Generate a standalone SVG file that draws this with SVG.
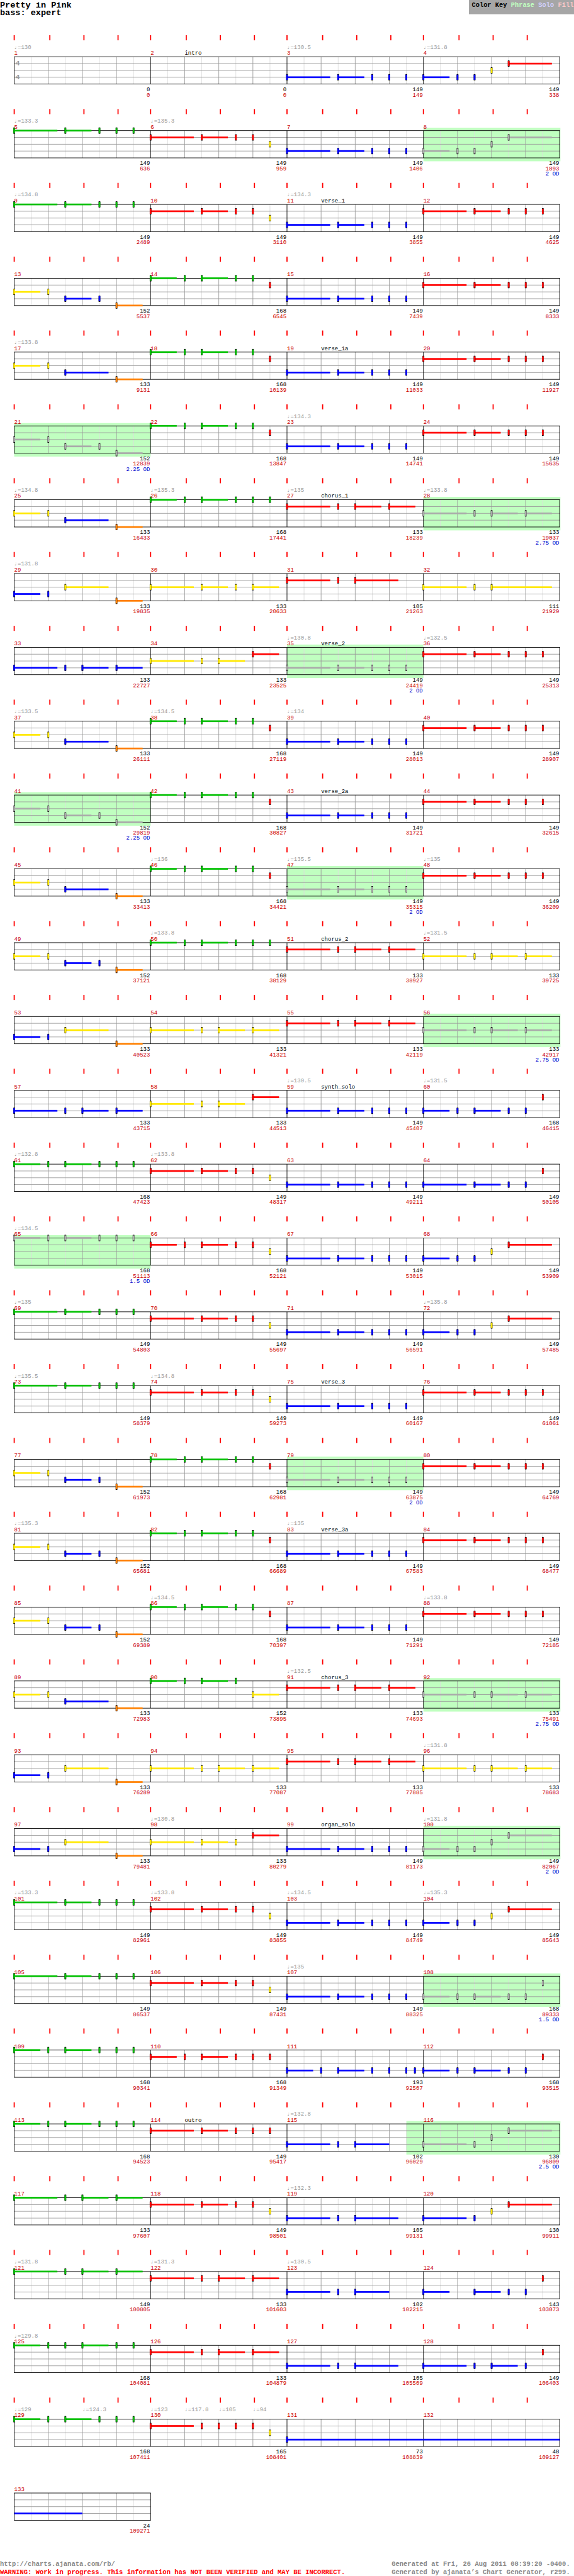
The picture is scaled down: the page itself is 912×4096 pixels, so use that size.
<svg xmlns="http://www.w3.org/2000/svg" width="912" height="4096" viewBox="0 0 912 4096">
<style>
text{font-family:"Liberation Mono","DejaVu Sans Mono",monospace;font-size:10px}
.G{fill:#00c000}.R{fill:#ff0000}.Y{fill:#ffe800}.B{fill:#0000ff}.O{fill:#ff8000}.X{fill:#aaaaaa}
.t{fill:#999}.m{fill:#c00}.s{fill:#000}
.n{fill:#000;text-anchor:end}.c{fill:#c00;text-anchor:end}.o{fill:#00c;text-anchor:end}
.ph{fill:#c0ffc0}.tk{fill:#f00}
.ft{font-size:11.65px;font-weight:bold}
</style>
<defs>
<g id="kG"><rect x="-1.5" y="-5.5" width="3" height="11"/><rect class="G" x="-1.5" y="-4.5" width="3" height="9"/></g>
<g id="kR"><rect x="-1.5" y="-5.5" width="3" height="11"/><rect class="R" x="-1.5" y="-4.5" width="3" height="9"/></g>
<g id="kY"><rect x="-1.5" y="-5.5" width="3" height="11"/><rect class="Y" x="-1.5" y="-4.5" width="3" height="9"/></g>
<g id="kB"><rect x="-1.5" y="-5.5" width="3" height="11"/><rect class="B" x="-1.5" y="-4.5" width="3" height="9"/></g>
<g id="kO"><rect x="-1.5" y="-5.5" width="3" height="11"/><rect class="O" x="-1.5" y="-4.5" width="3" height="9"/></g>
<g id="kX"><rect x="-1.5" y="-5.5" width="3" height="11"/><rect class="X" x="-1.5" y="-4.5" width="3" height="9"/></g>
<g id="tk" class="tk">
<rect x="24" y="62" width="2" height="9"/><rect x="86.7" y="62" width="2" height="9"/><rect x="146.7" y="62" width="2" height="9"/><rect x="206.7" y="62" width="2" height="9"/>
<rect x="264" y="62" width="2" height="9"/><rect x="326.7" y="62" width="2" height="9"/><rect x="386.7" y="62" width="2" height="9"/><rect x="446.7" y="62" width="2" height="9"/>
<rect x="504" y="62" width="2" height="9"/><rect x="566.7" y="62" width="2" height="9"/><rect x="626.7" y="62" width="2" height="9"/><rect x="686.7" y="62" width="2" height="9"/>
<rect x="744" y="62" width="2" height="9"/><rect x="806.7" y="62" width="2" height="9"/><rect x="866.7" y="62" width="2" height="9"/><rect x="926.7" y="62" width="2" height="9"/>
</g>
<g id="grid" fill="none">
<path stroke="#ddd" d="M55 100v48M115 100v48M175 100v48M235 100v48M295 100v48M355 100v48M415 100v48M475 100v48M535 100v48M595 100v48M655 100v48M715 100v48M775 100v48M835 100v48M895 100v48M955 100v48"/>
<path stroke="#999" d="M85 100v48M145 100v48M205 100v48M325 100v48M385 100v48M445 100v48M565 100v48M625 100v48M685 100v48M805 100v48M865 100v48M925 100v48M25 112h960M25 124h960M25 136h960"/>
<path stroke="#000" d="M265 100v48M505 100v48M745 100v48"/>
<rect x="25" y="100" width="960" height="48" stroke="#000"/>
</g>
<g id="grid1" fill="none">
<path stroke="#ddd" d="M55 100v48M115 100v48M175 100v48M235 100v48"/>
<path stroke="#999" d="M85 100v48M145 100v48M205 100v48M25 112h240M25 124h240M25 136h240"/>
<rect x="25" y="100" width="240" height="48" stroke="#000"/>
</g>
<g id="pAg"><rect class="G" x="0" y="98.5" width="76" height="3"/><rect class="G" x="90" y="98.5" width="46" height="3"/><use href="#kG" x="0" y="100"/><use href="#kG" x="90" y="100"/><use href="#kG" x="150" y="100"/><use href="#kG" x="180" y="100"/><use href="#kG" x="210" y="100"/></g>
<g id="pAr"><rect class="R" x="0" y="110.5" width="76" height="3"/><rect class="R" x="90" y="110.5" width="46" height="3"/><use href="#kR" x="0" y="112"/><use href="#kR" x="90" y="112"/><use href="#kR" x="150" y="112"/><use href="#kR" x="180" y="112"/><use href="#kR" x="210" y="112"/></g>
<g id="pAb"><rect class="B" x="0" y="134.5" width="76" height="3"/><rect class="B" x="90" y="134.5" width="46" height="3"/><use href="#kB" x="0" y="136"/><use href="#kB" x="90" y="136"/><use href="#kB" x="150" y="136"/><use href="#kB" x="180" y="136"/><use href="#kB" x="210" y="136"/></g>
<g id="pAbx"><rect class="X" x="0" y="134.5" width="76" height="3"/><rect class="X" x="90" y="134.5" width="46" height="3"/><use href="#kX" x="0" y="136"/><use href="#kX" x="90" y="136"/><use href="#kX" x="150" y="136"/><use href="#kX" x="180" y="136"/><use href="#kX" x="210" y="136"/></g>
<g id="pAry"><rect class="R" x="0" y="110.5" width="76" height="3"/><rect class="R" x="90" y="110.5" width="46" height="3"/><use href="#kR" x="0" y="112"/><use href="#kR" x="90" y="112"/><use href="#kR" x="150" y="112"/><use href="#kR" x="180" y="112"/><use href="#kY" x="210" y="124"/></g>
<g id="pD"><rect class="Y" x="0" y="122.5" width="46" height="3"/><rect class="B" x="90" y="134.5" width="46" height="3"/><rect class="O" x="180" y="146.5" width="46" height="3"/><use href="#kY" x="0" y="124"/><use href="#kY" x="60" y="124"/><use href="#kB" x="90" y="136"/><use href="#kB" x="150" y="136"/><use href="#kO" x="180" y="148"/></g>
<g id="pDx"><rect class="X" x="0" y="122.5" width="46" height="3"/><rect class="X" x="90" y="134.5" width="46" height="3"/><rect class="X" x="180" y="146.5" width="46" height="3"/><use href="#kX" x="0" y="124"/><use href="#kX" x="60" y="124"/><use href="#kX" x="90" y="136"/><use href="#kX" x="150" y="136"/><use href="#kX" x="180" y="148"/></g>
<g id="pD2"><rect class="Y" x="0" y="122.5" width="46" height="3"/><rect class="B" x="90" y="134.5" width="76" height="3"/><rect class="O" x="180" y="146.5" width="46" height="3"/><use href="#kY" x="0" y="124"/><use href="#kY" x="60" y="124"/><use href="#kB" x="90" y="136"/><use href="#kO" x="180" y="148"/></g>
<g id="pE"><rect class="G" x="0" y="98.5" width="46" height="3"/><rect class="G" x="90" y="98.5" width="46" height="3"/><use href="#kG" x="0" y="100"/><use href="#kG" x="60" y="100"/><use href="#kG" x="90" y="100"/><use href="#kG" x="150" y="100"/><use href="#kG" x="180" y="100"/><use href="#kR" x="210" y="112"/></g>
<g id="pFg"><rect class="G" x="0" y="98.5" width="46" height="3"/><rect class="G" x="90" y="98.5" width="46" height="3"/><use href="#kG" x="0" y="100"/><use href="#kG" x="60" y="100"/><use href="#kG" x="90" y="100"/><use href="#kG" x="150" y="100"/><use href="#kG" x="180" y="100"/><use href="#kG" x="210" y="100"/></g>
<g id="pFgx"><rect class="X" x="0" y="98.5" width="46" height="3"/><rect class="X" x="90" y="98.5" width="46" height="3"/><use href="#kX" x="0" y="100"/><use href="#kX" x="60" y="100"/><use href="#kX" x="90" y="100"/><use href="#kX" x="150" y="100"/><use href="#kX" x="180" y="100"/><use href="#kX" x="210" y="100"/></g>
<g id="pFr"><rect class="R" x="0" y="110.5" width="46" height="3"/><rect class="R" x="90" y="110.5" width="46" height="3"/><use href="#kR" x="0" y="112"/><use href="#kR" x="60" y="112"/><use href="#kR" x="90" y="112"/><use href="#kR" x="150" y="112"/><use href="#kR" x="180" y="112"/><use href="#kR" x="210" y="112"/></g>
<g id="pFry"><rect class="R" x="0" y="110.5" width="46" height="3"/><rect class="R" x="90" y="110.5" width="46" height="3"/><use href="#kR" x="0" y="112"/><use href="#kR" x="60" y="112"/><use href="#kR" x="90" y="112"/><use href="#kR" x="150" y="112"/><use href="#kR" x="180" y="112"/><use href="#kY" x="210" y="124"/></g>
<g id="pM4"><rect class="B" x="0" y="134.5" width="46" height="3"/><rect class="R" x="150" y="110.5" width="76" height="3"/><use href="#kB" x="0" y="136"/><use href="#kB" x="60" y="136"/><use href="#kB" x="90" y="136"/><use href="#kY" x="120" y="124"/><use href="#kR" x="150" y="112"/></g>
<g id="pM4x"><rect class="X" x="0" y="134.5" width="46" height="3"/><rect class="X" x="150" y="110.5" width="76" height="3"/><use href="#kX" x="0" y="136"/><use href="#kX" x="60" y="136"/><use href="#kX" x="90" y="136"/><use href="#kX" x="120" y="124"/><use href="#kX" x="150" y="112"/></g>
<g id="pCr"><rect class="R" x="0" y="110.5" width="76" height="3"/><rect class="R" x="120" y="110.5" width="46" height="3"/><rect class="R" x="180" y="110.5" width="46" height="3"/><use href="#kR" x="0" y="112"/><use href="#kR" x="90" y="112"/><use href="#kR" x="120" y="112"/><use href="#kR" x="180" y="112"/></g>
<g id="pCy"><rect class="Y" x="0" y="122.5" width="76" height="3"/><rect class="Y" x="120" y="122.5" width="46" height="3"/><rect class="Y" x="180" y="122.5" width="46" height="3"/><use href="#kY" x="0" y="124"/><use href="#kY" x="90" y="124"/><use href="#kY" x="120" y="124"/><use href="#kY" x="180" y="124"/></g>
<g id="pCyx"><rect class="X" x="0" y="122.5" width="76" height="3"/><rect class="X" x="120" y="122.5" width="46" height="3"/><rect class="X" x="180" y="122.5" width="46" height="3"/><use href="#kX" x="0" y="124"/><use href="#kX" x="90" y="124"/><use href="#kX" x="120" y="124"/><use href="#kX" x="180" y="124"/></g>
<g id="pCb"><rect class="B" x="0" y="134.5" width="76" height="3"/><rect class="B" x="120" y="134.5" width="46" height="3"/><rect class="B" x="180" y="134.5" width="46" height="3"/><use href="#kB" x="0" y="136"/><use href="#kB" x="90" y="136"/><use href="#kB" x="120" y="136"/><use href="#kB" x="180" y="136"/></g>
<g id="pCg"><rect class="G" x="0" y="98.5" width="76" height="3"/><rect class="G" x="120" y="98.5" width="46" height="3"/><rect class="G" x="180" y="98.5" width="46" height="3"/><use href="#kG" x="0" y="100"/><use href="#kG" x="90" y="100"/><use href="#kG" x="120" y="100"/><use href="#kG" x="180" y="100"/></g>
<g id="pG"><rect class="B" x="0" y="134.5" width="46" height="3"/><rect class="Y" x="90" y="122.5" width="76" height="3"/><rect class="O" x="180" y="146.5" width="46" height="3"/><use href="#kB" x="0" y="136"/><use href="#kB" x="60" y="136"/><use href="#kY" x="90" y="124"/><use href="#kO" x="180" y="148"/></g>
<g id="p30"><rect class="Y" x="0" y="122.5" width="76" height="3"/><rect class="Y" x="90" y="122.5" width="46" height="3"/><rect class="Y" x="180" y="122.5" width="46" height="3"/><use href="#kY" x="0" y="124"/><use href="#kY" x="90" y="124"/><use href="#kY" x="150" y="124"/><use href="#kY" x="180" y="124"/></g>
<g id="pC3r"><rect class="R" x="0" y="110.5" width="76" height="3"/><rect class="R" x="120" y="110.5" width="76" height="3"/><use href="#kR" x="0" y="112"/><use href="#kR" x="90" y="112"/><use href="#kR" x="120" y="112"/></g>
<g id="pC3b"><rect class="B" x="0" y="134.5" width="76" height="3"/><rect class="B" x="120" y="134.5" width="76" height="3"/><use href="#kB" x="0" y="136"/><use href="#kB" x="90" y="136"/><use href="#kB" x="120" y="136"/></g>
<g id="p32"><rect class="Y" x="0" y="122.5" width="76" height="3"/><rect class="Y" x="120" y="122.5" width="106" height="3"/><use href="#kY" x="0" y="124"/><use href="#kY" x="90" y="124"/><use href="#kY" x="120" y="124"/></g>
<g id="p34"><rect class="Y" x="0" y="122.5" width="76" height="3"/><rect class="Y" x="120" y="122.5" width="46" height="3"/><rect class="R" x="180" y="110.5" width="46" height="3"/><use href="#kY" x="0" y="124"/><use href="#kY" x="90" y="124"/><use href="#kY" x="120" y="124"/><use href="#kR" x="180" y="112"/></g>
<g id="p98"><rect class="Y" x="0" y="122.5" width="76" height="3"/><rect class="Y" x="90" y="122.5" width="46" height="3"/><rect class="R" x="180" y="110.5" width="46" height="3"/><use href="#kY" x="0" y="124"/><use href="#kY" x="90" y="124"/><use href="#kY" x="150" y="124"/><use href="#kR" x="180" y="112"/></g>
<g id="p60"><rect class="B" x="0" y="134.5" width="46" height="3"/><rect class="B" x="90" y="134.5" width="46" height="3"/><use href="#kB" x="0" y="136"/><use href="#kB" x="60" y="136"/><use href="#kB" x="90" y="136"/><use href="#kB" x="150" y="136"/><use href="#kB" x="180" y="136"/><use href="#kR" x="210" y="112"/></g>
<g id="p60x"><rect class="X" x="0" y="134.5" width="46" height="3"/><rect class="X" x="90" y="134.5" width="46" height="3"/><use href="#kX" x="0" y="136"/><use href="#kX" x="60" y="136"/><use href="#kX" x="90" y="136"/><use href="#kX" x="150" y="136"/><use href="#kX" x="180" y="136"/><use href="#kX" x="210" y="112"/></g>
<g id="p64"><rect class="B" x="0" y="134.5" width="76" height="3"/><rect class="B" x="90" y="134.5" width="46" height="3"/><use href="#kB" x="0" y="136"/><use href="#kB" x="90" y="136"/><use href="#kB" x="150" y="136"/><use href="#kB" x="180" y="136"/><use href="#kR" x="210" y="112"/></g>
<g id="p111"><rect class="B" x="0" y="134.5" width="46" height="3"/><rect class="B" x="90" y="134.5" width="46" height="3"/><use href="#kB" x="0" y="136"/><use href="#kB" x="60" y="136"/><use href="#kB" x="90" y="136"/><use href="#kB" x="150" y="136"/><use href="#kB" x="180" y="136"/><use href="#kB" x="210" y="136"/><use href="#kB" x="225" y="136"/></g>
<g id="p115"><rect class="B" x="0" y="134.5" width="76" height="3"/><rect class="B" x="120" y="134.5" width="60" height="3"/><use href="#kB" x="0" y="136"/><use href="#kB" x="90" y="136"/><use href="#kB" x="120" y="136"/></g>
<g id="p116"><rect class="B" x="0" y="134.5" width="76" height="3"/><rect class="R" x="150" y="110.5" width="76" height="3"/><use href="#kB" x="0" y="136"/><use href="#kB" x="90" y="136"/><use href="#kY" x="120" y="124"/><use href="#kR" x="150" y="112"/></g>
<g id="p116x"><rect class="X" x="0" y="134.5" width="76" height="3"/><rect class="X" x="150" y="110.5" width="76" height="3"/><use href="#kX" x="0" y="136"/><use href="#kX" x="90" y="136"/><use href="#kX" x="120" y="124"/><use href="#kX" x="150" y="112"/></g>
<g id="p124"><rect class="B" x="0" y="134.5" width="46" height="3"/><rect class="B" x="90" y="134.5" width="46" height="3"/><use href="#kB" x="0" y="136"/><use href="#kB" x="90" y="136"/><use href="#kB" x="150" y="136"/><use href="#kB" x="180" y="136"/><use href="#kR" x="210" y="112"/></g>
<g id="p125"><rect class="G" x="0" y="98.5" width="46" height="3"/><rect class="G" x="120" y="98.5" width="46" height="3"/><use href="#kG" x="0" y="100"/><use href="#kG" x="60" y="100"/><use href="#kG" x="90" y="100"/><use href="#kG" x="120" y="100"/><use href="#kG" x="180" y="100"/><use href="#kG" x="210" y="100"/></g>
<g id="p128"><rect class="B" x="0" y="134.5" width="76" height="3"/><rect class="B" x="120" y="134.5" width="46" height="3"/><use href="#kB" x="0" y="136"/><use href="#kB" x="90" y="136"/><use href="#kB" x="120" y="136"/><use href="#kB" x="180" y="136"/><use href="#kR" x="210" y="112"/></g>
<g id="p130"><rect class="R" x="0" y="110.5" width="76" height="3"/><use href="#kR" x="0" y="112"/><use href="#kR" x="90" y="112"/><use href="#kR" x="120" y="112"/><use href="#kR" x="150" y="112"/><use href="#kR" x="180" y="112"/><use href="#kY" x="210" y="124"/></g>
<g id="p90"><rect class="G" x="0" y="98.5" width="46" height="3"/><rect class="G" x="90" y="98.5" width="46" height="3"/><rect class="Y" x="180" y="122.5" width="46" height="3"/><use href="#kG" x="0" y="100"/><use href="#kG" x="60" y="100"/><use href="#kG" x="90" y="100"/><use href="#kG" x="150" y="100"/><use href="#kY" x="180" y="124"/></g>
</defs>
<rect width="912" height="4096" fill="#fff"/>
<g transform="scale(0.90297)">
<g id="header">
<text x="0" y="13" style="font-size:15px;font-weight:bold">Pretty in Pink</text>
<text x="0" y="27" style="font-size:15px;font-weight:bold">bass: expert</text>
<rect x="825" y="0" width="185" height="25" fill="#a6a6a6"/>
<text x="830" y="12" style="font-size:11.5px;font-weight:bold"><tspan fill="#000">Color Key </tspan><tspan fill="#c0ffc0">Phrase </tspan><tspan fill="#d0d0ff">Solo </tspan><tspan fill="#ffc8c8">Fill</tspan></text>
</g>
<g id="row-1">
<use href="#tk"/><use href="#grid"/>
<text x="27" y="115" style="font-size:13px;font-weight:bold;fill:#999">4</text><text x="27" y="139" style="font-size:13px;font-weight:bold;fill:#999">4</text>
<use href="#pAb" x="505"/><use href="#pM4" x="745"/>
<text class="t" x="25" y="86">♩=130</text><text class="t" x="505" y="86">♩=130.5</text><text class="t" x="745" y="86">♩=131.8</text>
<text class="m" x="25" y="96.5">1</text><text class="m" x="265" y="96.5">2</text><text class="m" x="505" y="96.5">3</text><text class="m" x="745" y="96.5">4</text>
<text class="s" x="325" y="96.5">intro</text>
<text class="n" x="264" y="160.5">0</text><text class="c" x="264" y="170">0</text><text class="n" x="504" y="160.5">0</text><text class="c" x="504" y="170">0</text><text class="n" x="744" y="160.5">149</text><text class="c" x="744" y="170">149</text><text class="n" x="984" y="160.5">149</text><text class="c" x="984" y="170">338</text>
</g>
<g id="row-2" transform="translate(0,130)">
<use href="#tk"/><rect class="ph" x="745" y="95" width="241" height="59"/><use href="#grid"/>
<use href="#pAg" x="25"/><use href="#pAry" x="265"/><use href="#pAb" x="505"/><use href="#pM4x" x="745"/>
<text class="t" x="25" y="86">♩=133.3</text><text class="t" x="265" y="86">♩=135.3</text>
<text class="m" x="25" y="96.5">5</text><text class="m" x="265" y="96.5">6</text><text class="m" x="505" y="96.5">7</text><text class="m" x="745" y="96.5">8</text>
<text class="n" x="264" y="160.5">149</text><text class="c" x="264" y="170">636</text><text class="n" x="504" y="160.5">149</text><text class="c" x="504" y="170">959</text><text class="n" x="744" y="160.5">149</text><text class="c" x="744" y="170">1406</text><text class="n" x="984" y="160.5">149</text><text class="c" x="984" y="170">1893</text><text class="o" x="984" y="179">2 OD</text>
</g>
<g id="row-3" transform="translate(0,260)">
<use href="#tk"/><use href="#grid"/>
<use href="#pAg" x="25"/><use href="#pAry" x="265"/><use href="#pAb" x="505"/><use href="#pAr" x="745"/>
<text class="t" x="25" y="86">♩=134.8</text><text class="t" x="505" y="86">♩=134.3</text>
<text class="m" x="25" y="96.5">9</text><text class="m" x="265" y="96.5">10</text><text class="m" x="505" y="96.5">11</text><text class="m" x="745" y="96.5">12</text>
<text class="s" x="565" y="96.5">verse_1</text>
<text class="n" x="264" y="160.5">149</text><text class="c" x="264" y="170">2489</text><text class="n" x="504" y="160.5">149</text><text class="c" x="504" y="170">3110</text><text class="n" x="744" y="160.5">149</text><text class="c" x="744" y="170">3855</text><text class="n" x="984" y="160.5">149</text><text class="c" x="984" y="170">4625</text>
</g>
<g id="row-4" transform="translate(0,390)">
<use href="#tk"/><use href="#grid"/>
<use href="#pD" x="25"/><use href="#pE" x="265"/><use href="#pAb" x="505"/><use href="#pAr" x="745"/>
<text class="m" x="25" y="96.5">13</text><text class="m" x="265" y="96.5">14</text><text class="m" x="505" y="96.5">15</text><text class="m" x="745" y="96.5">16</text>
<text class="n" x="264" y="160.5">152</text><text class="c" x="264" y="170">5537</text><text class="n" x="504" y="160.5">168</text><text class="c" x="504" y="170">6545</text><text class="n" x="744" y="160.5">149</text><text class="c" x="744" y="170">7439</text><text class="n" x="984" y="160.5">149</text><text class="c" x="984" y="170">8333</text>
</g>
<g id="row-5" transform="translate(0,520)">
<use href="#tk"/><use href="#grid"/>
<use href="#pD2" x="25"/><use href="#pE" x="265"/><use href="#pAb" x="505"/><use href="#pAr" x="745"/>
<text class="t" x="25" y="86">♩=133.8</text>
<text class="m" x="25" y="96.5">17</text><text class="m" x="265" y="96.5">18</text><text class="m" x="505" y="96.5">19</text><text class="m" x="745" y="96.5">20</text>
<text class="s" x="565" y="96.5">verse_1a</text>
<text class="n" x="264" y="160.5">133</text><text class="c" x="264" y="170">9131</text><text class="n" x="504" y="160.5">168</text><text class="c" x="504" y="170">10139</text><text class="n" x="744" y="160.5">149</text><text class="c" x="744" y="170">11033</text><text class="n" x="984" y="160.5">149</text><text class="c" x="984" y="170">11927</text>
</g>
<g id="row-6" transform="translate(0,650)">
<use href="#tk"/><rect class="ph" x="25" y="95" width="240" height="59"/><use href="#grid"/>
<use href="#pDx" x="25"/><use href="#pE" x="265"/><use href="#pAb" x="505"/><use href="#pAr" x="745"/>
<text class="t" x="505" y="86">♩=134.3</text>
<text class="m" x="25" y="96.5">21</text><text class="m" x="265" y="96.5">22</text><text class="m" x="505" y="96.5">23</text><text class="m" x="745" y="96.5">24</text>
<text class="n" x="264" y="160.5">152</text><text class="c" x="264" y="170">12839</text><text class="o" x="264" y="179">2.25 OD</text><text class="n" x="504" y="160.5">168</text><text class="c" x="504" y="170">13847</text><text class="n" x="744" y="160.5">149</text><text class="c" x="744" y="170">14741</text><text class="n" x="984" y="160.5">149</text><text class="c" x="984" y="170">15635</text>
</g>
<g id="row-7" transform="translate(0,780)">
<use href="#tk"/><rect class="ph" x="745" y="95" width="241" height="59"/><use href="#grid"/>
<use href="#pD2" x="25"/><use href="#pFg" x="265"/><use href="#pCr" x="505"/><use href="#pCyx" x="745"/>
<text class="t" x="25" y="86">♩=134.8</text><text class="t" x="265" y="86">♩=135.3</text><text class="t" x="505" y="86">♩=135</text><text class="t" x="745" y="86">♩=133.8</text>
<text class="m" x="25" y="96.5">25</text><text class="m" x="265" y="96.5">26</text><text class="m" x="505" y="96.5">27</text><text class="m" x="745" y="96.5">28</text>
<text class="s" x="565" y="96.5">chorus_1</text>
<text class="n" x="264" y="160.5">133</text><text class="c" x="264" y="170">16433</text><text class="n" x="504" y="160.5">168</text><text class="c" x="504" y="170">17441</text><text class="n" x="744" y="160.5">133</text><text class="c" x="744" y="170">18239</text><text class="n" x="984" y="160.5">133</text><text class="c" x="984" y="170">19037</text><text class="o" x="984" y="179">2.75 OD</text>
</g>
<g id="row-8" transform="translate(0,910)">
<use href="#tk"/><use href="#grid"/>
<use href="#pG" x="25"/><use href="#p30" x="265"/><use href="#pC3r" x="505"/><use href="#p32" x="745"/>
<text class="t" x="25" y="86">♩=131.8</text>
<text class="m" x="25" y="96.5">29</text><text class="m" x="265" y="96.5">30</text><text class="m" x="505" y="96.5">31</text><text class="m" x="745" y="96.5">32</text>
<text class="n" x="264" y="160.5">133</text><text class="c" x="264" y="170">19835</text><text class="n" x="504" y="160.5">133</text><text class="c" x="504" y="170">20633</text><text class="n" x="744" y="160.5">105</text><text class="c" x="744" y="170">21263</text><text class="n" x="984" y="160.5">111</text><text class="c" x="984" y="170">21929</text>
</g>
<g id="row-9" transform="translate(0,1040)">
<use href="#tk"/><rect class="ph" x="505" y="95" width="240" height="59"/><use href="#grid"/>
<use href="#pCb" x="25"/><use href="#p34" x="265"/><use href="#pAbx" x="505"/><use href="#pAr" x="745"/>
<text class="t" x="505" y="86">♩=130.8</text><text class="t" x="745" y="86">♩=132.5</text>
<text class="m" x="25" y="96.5">33</text><text class="m" x="265" y="96.5">34</text><text class="m" x="505" y="96.5">35</text><text class="m" x="745" y="96.5">36</text>
<text class="s" x="565" y="96.5">verse_2</text>
<text class="n" x="264" y="160.5">133</text><text class="c" x="264" y="170">22727</text><text class="n" x="504" y="160.5">133</text><text class="c" x="504" y="170">23525</text><text class="n" x="744" y="160.5">149</text><text class="c" x="744" y="170">24419</text><text class="o" x="744" y="179">2 OD</text><text class="n" x="984" y="160.5">149</text><text class="c" x="984" y="170">25313</text>
</g>
<g id="row-10" transform="translate(0,1170)">
<use href="#tk"/><use href="#grid"/>
<use href="#pD2" x="25"/><use href="#pE" x="265"/><use href="#pAb" x="505"/><use href="#pAr" x="745"/>
<text class="t" x="25" y="86">♩=133.5</text><text class="t" x="265" y="86">♩=134.5</text><text class="t" x="505" y="86">♩=134</text>
<text class="m" x="25" y="96.5">37</text><text class="m" x="265" y="96.5">38</text><text class="m" x="505" y="96.5">39</text><text class="m" x="745" y="96.5">40</text>
<text class="n" x="264" y="160.5">133</text><text class="c" x="264" y="170">26111</text><text class="n" x="504" y="160.5">168</text><text class="c" x="504" y="170">27119</text><text class="n" x="744" y="160.5">149</text><text class="c" x="744" y="170">28013</text><text class="n" x="984" y="160.5">149</text><text class="c" x="984" y="170">28907</text>
</g>
<g id="row-11" transform="translate(0,1300)">
<use href="#tk"/><rect class="ph" x="25" y="95" width="240" height="59"/><use href="#grid"/>
<use href="#pDx" x="25"/><use href="#pE" x="265"/><use href="#pAb" x="505"/><use href="#pAr" x="745"/>
<text class="m" x="25" y="96.5">41</text><text class="m" x="265" y="96.5">42</text><text class="m" x="505" y="96.5">43</text><text class="m" x="745" y="96.5">44</text>
<text class="s" x="565" y="96.5">verse_2a</text>
<text class="n" x="264" y="160.5">152</text><text class="c" x="264" y="170">29819</text><text class="o" x="264" y="179">2.25 OD</text><text class="n" x="504" y="160.5">168</text><text class="c" x="504" y="170">30827</text><text class="n" x="744" y="160.5">149</text><text class="c" x="744" y="170">31721</text><text class="n" x="984" y="160.5">149</text><text class="c" x="984" y="170">32615</text>
</g>
<g id="row-12" transform="translate(0,1430)">
<use href="#tk"/><rect class="ph" x="505" y="95" width="240" height="59"/><use href="#grid"/>
<use href="#pD2" x="25"/><use href="#pE" x="265"/><use href="#pAbx" x="505"/><use href="#pAr" x="745"/>
<text class="t" x="265" y="86">♩=136</text><text class="t" x="505" y="86">♩=135.5</text><text class="t" x="745" y="86">♩=135</text>
<text class="m" x="25" y="96.5">45</text><text class="m" x="265" y="96.5">46</text><text class="m" x="505" y="96.5">47</text><text class="m" x="745" y="96.5">48</text>
<text class="n" x="264" y="160.5">133</text><text class="c" x="264" y="170">33413</text><text class="n" x="504" y="160.5">168</text><text class="c" x="504" y="170">34421</text><text class="n" x="744" y="160.5">149</text><text class="c" x="744" y="170">35315</text><text class="o" x="744" y="179">2 OD</text><text class="n" x="984" y="160.5">149</text><text class="c" x="984" y="170">36209</text>
</g>
<g id="row-13" transform="translate(0,1560)">
<use href="#tk"/><use href="#grid"/>
<use href="#pD" x="25"/><use href="#pFg" x="265"/><use href="#pCr" x="505"/><use href="#pCy" x="745"/>
<text class="t" x="265" y="86">♩=133.8</text><text class="t" x="745" y="86">♩=131.5</text>
<text class="m" x="25" y="96.5">49</text><text class="m" x="265" y="96.5">50</text><text class="m" x="505" y="96.5">51</text><text class="m" x="745" y="96.5">52</text>
<text class="s" x="565" y="96.5">chorus_2</text>
<text class="n" x="264" y="160.5">152</text><text class="c" x="264" y="170">37121</text><text class="n" x="504" y="160.5">168</text><text class="c" x="504" y="170">38129</text><text class="n" x="744" y="160.5">133</text><text class="c" x="744" y="170">38927</text><text class="n" x="984" y="160.5">133</text><text class="c" x="984" y="170">39725</text>
</g>
<g id="row-14" transform="translate(0,1690)">
<use href="#tk"/><rect class="ph" x="745" y="95" width="241" height="59"/><use href="#grid"/>
<use href="#pG" x="25"/><use href="#pCy" x="265"/><use href="#pCr" x="505"/><use href="#pCyx" x="745"/>
<text class="m" x="25" y="96.5">53</text><text class="m" x="265" y="96.5">54</text><text class="m" x="505" y="96.5">55</text><text class="m" x="745" y="96.5">56</text>
<text class="n" x="264" y="160.5">133</text><text class="c" x="264" y="170">40523</text><text class="n" x="504" y="160.5">133</text><text class="c" x="504" y="170">41321</text><text class="n" x="744" y="160.5">133</text><text class="c" x="744" y="170">42119</text><text class="n" x="984" y="160.5">133</text><text class="c" x="984" y="170">42917</text><text class="o" x="984" y="179">2.75 OD</text>
</g>
<g id="row-15" transform="translate(0,1820)">
<use href="#tk"/><use href="#grid"/>
<use href="#pCb" x="25"/><use href="#p34" x="265"/><use href="#pAb" x="505"/><use href="#p60" x="745"/>
<text class="t" x="505" y="86">♩=130.5</text><text class="t" x="745" y="86">♩=131.5</text>
<text class="m" x="25" y="96.5">57</text><text class="m" x="265" y="96.5">58</text><text class="m" x="505" y="96.5">59</text><text class="m" x="745" y="96.5">60</text>
<text class="s" x="565" y="96.5">synth_solo</text>
<text class="n" x="264" y="160.5">133</text><text class="c" x="264" y="170">43715</text><text class="n" x="504" y="160.5">133</text><text class="c" x="504" y="170">44513</text><text class="n" x="744" y="160.5">149</text><text class="c" x="744" y="170">45407</text><text class="n" x="984" y="160.5">168</text><text class="c" x="984" y="170">46415</text>
</g>
<g id="row-16" transform="translate(0,1950)">
<use href="#tk"/><use href="#grid"/>
<use href="#pFg" x="25"/><use href="#pAry" x="265"/><use href="#pAb" x="505"/><use href="#p64" x="745"/>
<text class="t" x="25" y="86">♩=132.8</text><text class="t" x="265" y="86">♩=133.8</text>
<text class="m" x="25" y="96.5">61</text><text class="m" x="265" y="96.5">62</text><text class="m" x="505" y="96.5">63</text><text class="m" x="745" y="96.5">64</text>
<text class="n" x="264" y="160.5">168</text><text class="c" x="264" y="170">47423</text><text class="n" x="504" y="160.5">149</text><text class="c" x="504" y="170">48317</text><text class="n" x="744" y="160.5">149</text><text class="c" x="744" y="170">49211</text><text class="n" x="984" y="160.5">149</text><text class="c" x="984" y="170">50105</text>
</g>
<g id="row-17" transform="translate(0,2080)">
<use href="#tk"/><rect class="ph" x="25" y="95" width="240" height="59"/><use href="#grid"/>
<use href="#pFgx" x="25"/><use href="#pFry" x="265"/><use href="#pAb" x="505"/><use href="#pM4" x="745"/>
<text class="t" x="25" y="86">♩=134.5</text>
<text class="m" x="25" y="96.5">65</text><text class="m" x="265" y="96.5">66</text><text class="m" x="505" y="96.5">67</text><text class="m" x="745" y="96.5">68</text>
<text class="n" x="264" y="160.5">168</text><text class="c" x="264" y="170">51113</text><text class="o" x="264" y="179">1.5 OD</text><text class="n" x="504" y="160.5">168</text><text class="c" x="504" y="170">52121</text><text class="n" x="744" y="160.5">149</text><text class="c" x="744" y="170">53015</text><text class="n" x="984" y="160.5">149</text><text class="c" x="984" y="170">53909</text>
</g>
<g id="row-18" transform="translate(0,2210)">
<use href="#tk"/><use href="#grid"/>
<use href="#pAg" x="25"/><use href="#pAry" x="265"/><use href="#pAb" x="505"/><use href="#pM4" x="745"/>
<text class="t" x="25" y="86">♩=135</text><text class="t" x="745" y="86">♩=135.8</text>
<text class="m" x="25" y="96.5">69</text><text class="m" x="265" y="96.5">70</text><text class="m" x="505" y="96.5">71</text><text class="m" x="745" y="96.5">72</text>
<text class="n" x="264" y="160.5">149</text><text class="c" x="264" y="170">54803</text><text class="n" x="504" y="160.5">149</text><text class="c" x="504" y="170">55697</text><text class="n" x="744" y="160.5">149</text><text class="c" x="744" y="170">56591</text><text class="n" x="984" y="160.5">149</text><text class="c" x="984" y="170">57485</text>
</g>
<g id="row-19" transform="translate(0,2340)">
<use href="#tk"/><use href="#grid"/>
<use href="#pAg" x="25"/><use href="#pAry" x="265"/><use href="#pAb" x="505"/><use href="#pAr" x="745"/>
<text class="t" x="25" y="86">♩=135.5</text><text class="t" x="265" y="86">♩=134.8</text>
<text class="m" x="25" y="96.5">73</text><text class="m" x="265" y="96.5">74</text><text class="m" x="505" y="96.5">75</text><text class="m" x="745" y="96.5">76</text>
<text class="s" x="565" y="96.5">verse_3</text>
<text class="n" x="264" y="160.5">149</text><text class="c" x="264" y="170">58379</text><text class="n" x="504" y="160.5">149</text><text class="c" x="504" y="170">59273</text><text class="n" x="744" y="160.5">149</text><text class="c" x="744" y="170">60167</text><text class="n" x="984" y="160.5">149</text><text class="c" x="984" y="170">61061</text>
</g>
<g id="row-20" transform="translate(0,2470)">
<use href="#tk"/><rect class="ph" x="505" y="95" width="240" height="59"/><use href="#grid"/>
<use href="#pD" x="25"/><use href="#pE" x="265"/><use href="#pAbx" x="505"/><use href="#pAr" x="745"/>
<text class="m" x="25" y="96.5">77</text><text class="m" x="265" y="96.5">78</text><text class="m" x="505" y="96.5">79</text><text class="m" x="745" y="96.5">80</text>
<text class="n" x="264" y="160.5">152</text><text class="c" x="264" y="170">61973</text><text class="n" x="504" y="160.5">168</text><text class="c" x="504" y="170">62981</text><text class="n" x="744" y="160.5">149</text><text class="c" x="744" y="170">63875</text><text class="o" x="744" y="179">2 OD</text><text class="n" x="984" y="160.5">149</text><text class="c" x="984" y="170">64769</text>
</g>
<g id="row-21" transform="translate(0,2600)">
<use href="#tk"/><use href="#grid"/>
<use href="#pD" x="25"/><use href="#pE" x="265"/><use href="#pAb" x="505"/><use href="#pAr" x="745"/>
<text class="t" x="25" y="86">♩=135.3</text><text class="t" x="505" y="86">♩=135</text>
<text class="m" x="25" y="96.5">81</text><text class="m" x="265" y="96.5">82</text><text class="m" x="505" y="96.5">83</text><text class="m" x="745" y="96.5">84</text>
<text class="s" x="565" y="96.5">verse_3a</text>
<text class="n" x="264" y="160.5">152</text><text class="c" x="264" y="170">65681</text><text class="n" x="504" y="160.5">168</text><text class="c" x="504" y="170">66689</text><text class="n" x="744" y="160.5">149</text><text class="c" x="744" y="170">67583</text><text class="n" x="984" y="160.5">149</text><text class="c" x="984" y="170">68477</text>
</g>
<g id="row-22" transform="translate(0,2730)">
<use href="#tk"/><use href="#grid"/>
<use href="#pD" x="25"/><use href="#pE" x="265"/><use href="#pAb" x="505"/><use href="#pAr" x="745"/>
<text class="t" x="265" y="86">♩=134.5</text><text class="t" x="745" y="86">♩=133.8</text>
<text class="m" x="25" y="96.5">85</text><text class="m" x="265" y="96.5">86</text><text class="m" x="505" y="96.5">87</text><text class="m" x="745" y="96.5">88</text>
<text class="n" x="264" y="160.5">152</text><text class="c" x="264" y="170">69389</text><text class="n" x="504" y="160.5">168</text><text class="c" x="504" y="170">70397</text><text class="n" x="744" y="160.5">149</text><text class="c" x="744" y="170">71291</text><text class="n" x="984" y="160.5">149</text><text class="c" x="984" y="170">72185</text>
</g>
<g id="row-23" transform="translate(0,2860)">
<use href="#tk"/><rect class="ph" x="745" y="95" width="241" height="59"/><use href="#grid"/>
<use href="#pD2" x="25"/><use href="#p90" x="265"/><use href="#pCr" x="505"/><use href="#pCyx" x="745"/>
<text class="t" x="505" y="86">♩=132.5</text>
<text class="m" x="25" y="96.5">89</text><text class="m" x="265" y="96.5">90</text><text class="m" x="505" y="96.5">91</text><text class="m" x="745" y="96.5">92</text>
<text class="s" x="565" y="96.5">chorus_3</text>
<text class="n" x="264" y="160.5">133</text><text class="c" x="264" y="170">72983</text><text class="n" x="504" y="160.5">152</text><text class="c" x="504" y="170">73895</text><text class="n" x="744" y="160.5">133</text><text class="c" x="744" y="170">74693</text><text class="n" x="984" y="160.5">133</text><text class="c" x="984" y="170">75491</text><text class="o" x="984" y="179">2.75 OD</text>
</g>
<g id="row-24" transform="translate(0,2990)">
<use href="#tk"/><use href="#grid"/>
<use href="#pG" x="25"/><use href="#pCy" x="265"/><use href="#pCr" x="505"/><use href="#pCy" x="745"/>
<text class="t" x="745" y="86">♩=131.8</text>
<text class="m" x="25" y="96.5">93</text><text class="m" x="265" y="96.5">94</text><text class="m" x="505" y="96.5">95</text><text class="m" x="745" y="96.5">96</text>
<text class="n" x="264" y="160.5">133</text><text class="c" x="264" y="170">76289</text><text class="n" x="504" y="160.5">133</text><text class="c" x="504" y="170">77087</text><text class="n" x="744" y="160.5">133</text><text class="c" x="744" y="170">77885</text><text class="n" x="984" y="160.5">133</text><text class="c" x="984" y="170">78683</text>
</g>
<g id="row-25" transform="translate(0,3120)">
<use href="#tk"/><rect class="ph" x="745" y="95" width="241" height="59"/><use href="#grid"/>
<use href="#pG" x="25"/><use href="#p98" x="265"/><use href="#pAb" x="505"/><use href="#pM4x" x="745"/>
<text class="t" x="265" y="86">♩=130.8</text><text class="t" x="745" y="86">♩=131.8</text>
<text class="m" x="25" y="96.5">97</text><text class="m" x="265" y="96.5">98</text><text class="m" x="505" y="96.5">99</text><text class="m" x="745" y="96.5">100</text>
<text class="s" x="565" y="96.5">organ_solo</text>
<text class="n" x="264" y="160.5">133</text><text class="c" x="264" y="170">79481</text><text class="n" x="504" y="160.5">133</text><text class="c" x="504" y="170">80279</text><text class="n" x="744" y="160.5">149</text><text class="c" x="744" y="170">81173</text><text class="n" x="984" y="160.5">149</text><text class="c" x="984" y="170">82067</text><text class="o" x="984" y="179">2 OD</text>
</g>
<g id="row-26" transform="translate(0,3250)">
<use href="#tk"/><use href="#grid"/>
<use href="#pAg" x="25"/><use href="#pAry" x="265"/><use href="#pAb" x="505"/><use href="#pM4" x="745"/>
<text class="t" x="25" y="86">♩=133.3</text><text class="t" x="265" y="86">♩=133.8</text><text class="t" x="505" y="86">♩=134.5</text><text class="t" x="745" y="86">♩=135.3</text>
<text class="m" x="25" y="96.5">101</text><text class="m" x="265" y="96.5">102</text><text class="m" x="505" y="96.5">103</text><text class="m" x="745" y="96.5">104</text>
<text class="n" x="264" y="160.5">149</text><text class="c" x="264" y="170">82961</text><text class="n" x="504" y="160.5">149</text><text class="c" x="504" y="170">83855</text><text class="n" x="744" y="160.5">149</text><text class="c" x="744" y="170">84749</text><text class="n" x="984" y="160.5">149</text><text class="c" x="984" y="170">85643</text>
</g>
<g id="row-27" transform="translate(0,3380)">
<use href="#tk"/><rect class="ph" x="745" y="95" width="241" height="59"/><use href="#grid"/>
<use href="#pAg" x="25"/><use href="#pAry" x="265"/><use href="#pAb" x="505"/><use href="#p60x" x="745"/>
<text class="t" x="505" y="86">♩=135</text>
<text class="m" x="25" y="96.5">105</text><text class="m" x="265" y="96.5">106</text><text class="m" x="505" y="96.5">107</text><text class="m" x="745" y="96.5">108</text>
<text class="n" x="264" y="160.5">149</text><text class="c" x="264" y="170">86537</text><text class="n" x="504" y="160.5">149</text><text class="c" x="504" y="170">87431</text><text class="n" x="744" y="160.5">149</text><text class="c" x="744" y="170">88325</text><text class="n" x="984" y="160.5">168</text><text class="c" x="984" y="170">89333</text><text class="o" x="984" y="179">1.5 OD</text>
</g>
<g id="row-28" transform="translate(0,3510)">
<use href="#tk"/><use href="#grid"/>
<use href="#pFg" x="25"/><use href="#pFr" x="265"/><use href="#p111" x="505"/><use href="#p60" x="745"/>
<text class="m" x="25" y="96.5">109</text><text class="m" x="265" y="96.5">110</text><text class="m" x="505" y="96.5">111</text><text class="m" x="745" y="96.5">112</text>
<text class="n" x="264" y="160.5">168</text><text class="c" x="264" y="170">90341</text><text class="n" x="504" y="160.5">168</text><text class="c" x="504" y="170">91349</text><text class="n" x="744" y="160.5">193</text><text class="c" x="744" y="170">92507</text><text class="n" x="984" y="160.5">168</text><text class="c" x="984" y="170">93515</text>
</g>
<g id="row-29" transform="translate(0,3640)">
<use href="#tk"/><rect class="ph" x="715" y="95" width="271" height="59"/><use href="#grid"/>
<use href="#pFg" x="25"/><use href="#pAr" x="265"/><use href="#p115" x="505"/><use href="#p116x" x="745"/>
<text class="t" x="505" y="86">♩=132.8</text>
<text class="m" x="25" y="96.5">113</text><text class="m" x="265" y="96.5">114</text><text class="m" x="505" y="96.5">115</text><text class="m" x="745" y="96.5">116</text>
<text class="s" x="325" y="96.5">outro</text>
<text class="n" x="264" y="160.5">168</text><text class="c" x="264" y="170">94523</text><text class="n" x="504" y="160.5">149</text><text class="c" x="504" y="170">95417</text><text class="n" x="744" y="160.5">102</text><text class="c" x="744" y="170">96029</text><text class="n" x="984" y="160.5">130</text><text class="c" x="984" y="170">96809</text><text class="o" x="984" y="179">2.5 OD</text>
</g>
<g id="row-30" transform="translate(0,3770)">
<use href="#tk"/><use href="#grid"/>
<use href="#pCg" x="25"/><use href="#pAry" x="265"/><use href="#pC3b" x="505"/><use href="#p116" x="745"/>
<text class="t" x="505" y="86">♩=132.3</text>
<text class="m" x="25" y="96.5">117</text><text class="m" x="265" y="96.5">118</text><text class="m" x="505" y="96.5">119</text><text class="m" x="745" y="96.5">120</text>
<text class="n" x="264" y="160.5">133</text><text class="c" x="264" y="170">97607</text><text class="n" x="504" y="160.5">149</text><text class="c" x="504" y="170">98501</text><text class="n" x="744" y="160.5">105</text><text class="c" x="744" y="170">99131</text><text class="n" x="984" y="160.5">130</text><text class="c" x="984" y="170">99911</text>
</g>
<g id="row-31" transform="translate(0,3900)">
<use href="#tk"/><use href="#grid"/>
<use href="#pCg" x="25"/><use href="#pCr" x="265"/><use href="#p115" x="505"/><use href="#p124" x="745"/>
<text class="t" x="25" y="86">♩=131.8</text><text class="t" x="265" y="86">♩=131.3</text><text class="t" x="505" y="86">♩=130.5</text>
<text class="m" x="25" y="96.5">121</text><text class="m" x="265" y="96.5">122</text><text class="m" x="505" y="96.5">123</text><text class="m" x="745" y="96.5">124</text>
<text class="n" x="264" y="160.5">149</text><text class="c" x="264" y="170">100805</text><text class="n" x="504" y="160.5">133</text><text class="c" x="504" y="170">101603</text><text class="n" x="744" y="160.5">102</text><text class="c" x="744" y="170">102215</text><text class="n" x="984" y="160.5">143</text><text class="c" x="984" y="170">103073</text>
</g>
<g id="row-32" transform="translate(0,4030)">
<use href="#tk"/><use href="#grid"/>
<use href="#p125" x="25"/><use href="#pCr" x="265"/><use href="#pC3b" x="505"/><use href="#p128" x="745"/>
<text class="t" x="25" y="86">♩=129.8</text>
<text class="m" x="25" y="96.5">125</text><text class="m" x="265" y="96.5">126</text><text class="m" x="505" y="96.5">127</text><text class="m" x="745" y="96.5">128</text>
<text class="n" x="264" y="160.5">168</text><text class="c" x="264" y="170">104081</text><text class="n" x="504" y="160.5">133</text><text class="c" x="504" y="170">104879</text><text class="n" x="744" y="160.5">105</text><text class="c" x="744" y="170">105509</text><text class="n" x="984" y="160.5">149</text><text class="c" x="984" y="170">106403</text>
</g>
<g id="row-33" transform="translate(0,4160)">
<use href="#tk"/><use href="#grid"/>
<use href="#pFg" x="25"/><use href="#p130" x="265"/>
<rect class="B" x="505" y="134.5" width="480" height="3"/><use href="#kB" x="505" y="136"/>
<text class="t" x="25" y="86">♩=129</text><text class="t" x="145" y="86">♩=124.3</text><text class="t" x="265" y="86">♩=123</text><text class="t" x="325" y="86">♩=117.8</text><text class="t" x="385" y="86">♩=105</text><text class="t" x="445" y="86">♩=94</text>
<text class="m" x="25" y="96.5">129</text><text class="m" x="265" y="96.5">130</text><text class="m" x="505" y="96.5">131</text><text class="m" x="745" y="96.5">132</text>
<text class="n" x="264" y="160.5">168</text><text class="c" x="264" y="170">107411</text><text class="n" x="504" y="160.5">165</text><text class="c" x="504" y="170">108401</text><text class="n" x="744" y="160.5">73</text><text class="c" x="744" y="170">108839</text><text class="n" x="984" y="160.5">48</text><text class="c" x="984" y="170">109127</text>
</g>
<g id="row-34" transform="translate(0,4290)">
<use href="#grid1"/>
<rect class="B" x="25" y="134.5" width="120" height="3"/>
<text class="m" x="25" y="96.5">133</text>
<text class="n" x="264" y="160.5">24</text><text class="c" x="264" y="170">109271</text>
</g>
<g id="footer" class="ft">
<text class="ft" x="0" y="4518" fill="#888">http://charts.ajanata.com/rb/</text>
<text class="ft" x="0" y="4532.5" fill="#f00">WARNING: Work in progress. This information has NOT BEEN VERIFIED and MAY BE INCORRECT.</text>
<text class="ft" x="689" y="4518" fill="#888">Generated at Fri, 26 Aug 2011 08:39:20 -0400.</text>
<text class="ft" x="689" y="4532.5" fill="#888">Generated by ajanata’s Chart Generator, r299.</text>
</g>
</g>
</svg>
